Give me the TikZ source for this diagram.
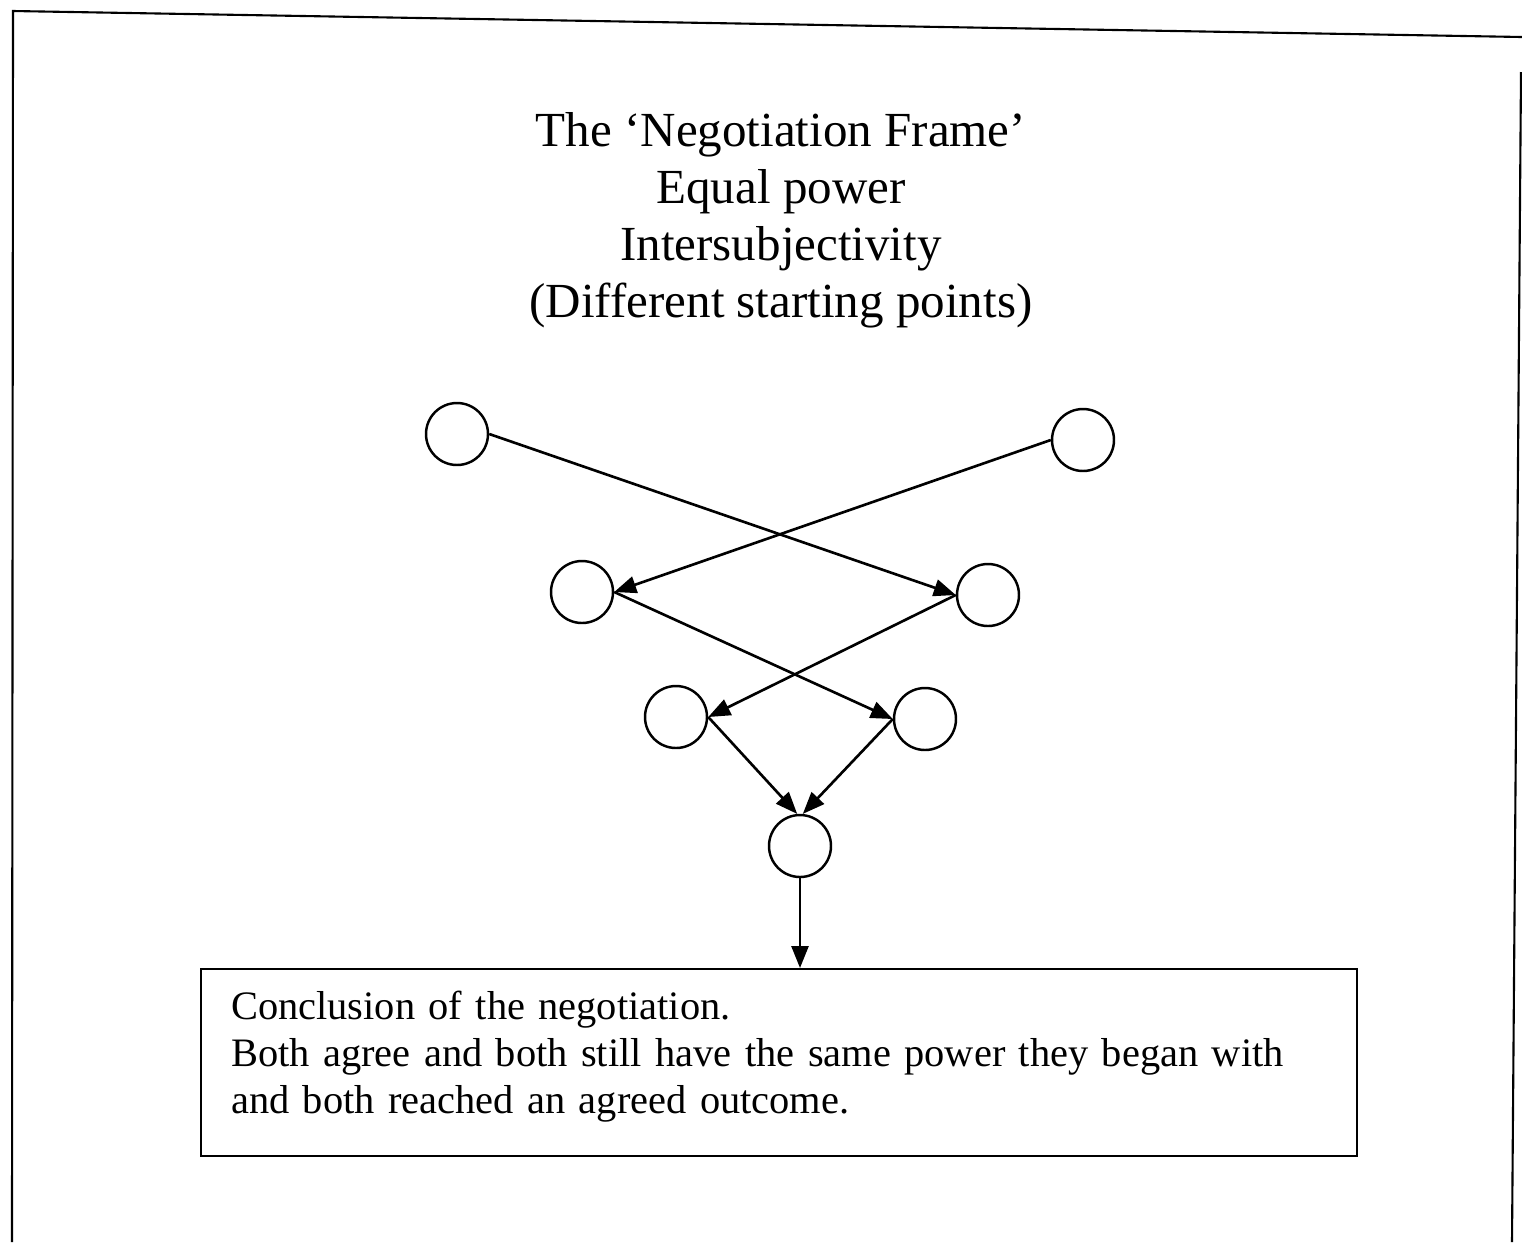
\documentclass[tikz,border=0pt]{standalone}
\usepackage{fontspec}
\setmainfont{Liberation Serif}
\usetikzlibrary{arrows.meta}
\usetikzlibrary{positioning}
\tikzset{stage/.style = {draw, circle, line width = 1.4pt, inner sep = 0, minimum size = 1.24cm}}
\tikzset{move/.style = {line width = 1.5pt, -{Triangle[length = 0.44cm, width = 0.34cm]}}}

\begin{document}
\begin{tikzpicture}[x = 0.02cm, y = -0.02cm]
      \useasboundingbox (0, 0) rectangle (1522, 1242);
      \draw [line width = 1.2pt] (1522, 37) -- (13, 11) -- (12, 1242);
      \draw [line width = 1.2pt] (1521, 72) -- (1512, 1242);

      \node [align = center, font = \fontsize{27.9}{32.4}\selectfont] (title) at (781, 220)
        {The ‘Negotiation Frame’\\ Equal power\\ Intersubjectivity\\ (Different starting points)};

      \node [stage] (tl) at (457, 434) {};
      \node [stage] (tr) at (1083, 440) {};
      \node [stage] (ml) at (582, 592) {};
      \node [stage] (mr) at (988, 595) {};
      \node [stage] (ll) at (676, 717) {};
      \node [stage] (lr) at (925, 719) {};
      \node [stage] (bt) at (800, 846) {};

      \node [draw, line width = 1.3pt, anchor = north, text width = 21.92cm, inner xsep = 0.6cm,
        minimum height = 3.74cm, align = left, font = \fontsize{23}{26.7}\selectfont] (concl) at (779, 968)
        {Conclusion of the negotiation.\\ Both agree and both still have the same power they began with\\
         and both reached an agreed outcome.\rule[-0.42cm]{0pt}{0pt}};

      \draw [move] (tl.east) -- (mr.west);
      \draw [move] (tr.west) -- (ml.east);
      \draw [move] (ml.east) -- (lr.west);
      \draw [move] (mr.west) -- (ll.east);
      \draw [move] (ll.east) -- (bt.95);
      \draw [move] (lr.west) -- (bt.85);
      \draw [move] (bt.south) -- (bt |- concl.north);

    \end{tikzpicture}
\end{document}
